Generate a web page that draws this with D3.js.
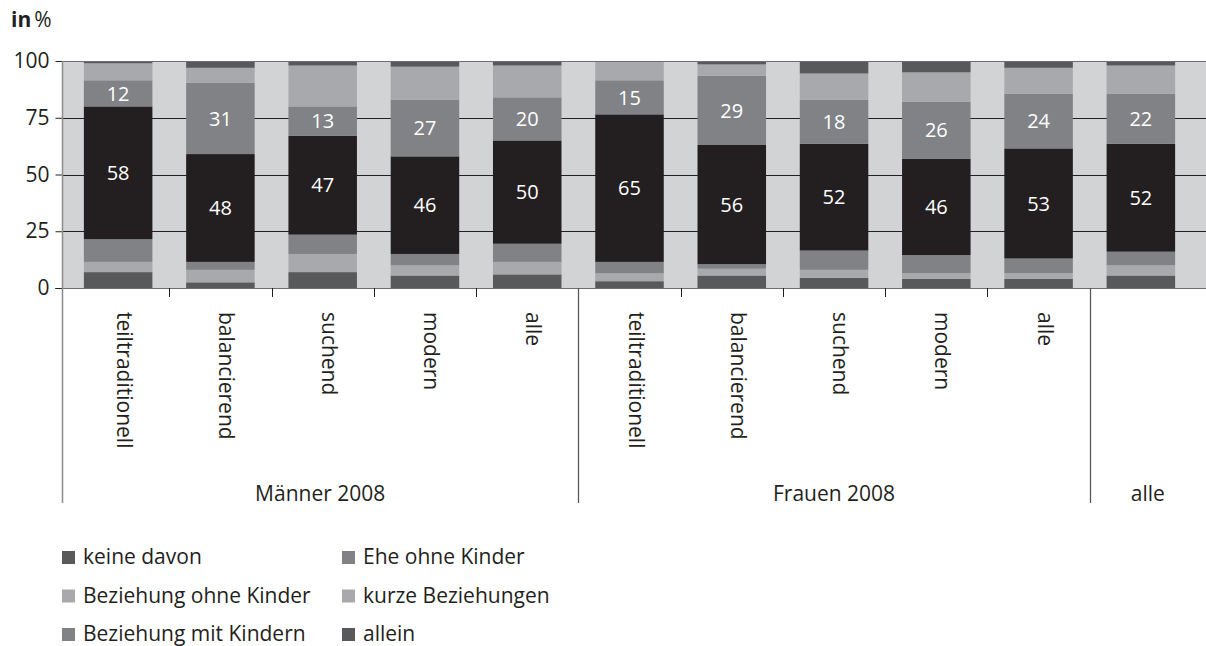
<!DOCTYPE html>
<meta charset="utf-8">
<script src="https://d3js.org/d3.v7.min.js"></script>
<style>
  body { margin: 0; background: #fff; }
  text { font-family: "Open Sans", sans-serif; fill: #231f20; }
</style>
<div id="chart"></div>
<script>

// x categories and the group each one belongs to
var categories = ["teiltraditionell", "balancierend", "suchend", "modern", "alle",
                  "teiltraditionell", "balancierend", "suchend", "modern", "alle", ""];
var groups = ["Männer 2008", "Männer 2008", "Männer 2008", "Männer 2008", "Männer 2008",
              "Frauen 2008", "Frauen 2008", "Frauen 2008", "Frauen 2008", "Frauen 2008", "alle"];

// shares of each segment (bottom to top)
var allein              = [7, 2.5, 7, 5.5, 6, 3, 5.5, 4.5, 4, 4, 5.5];
var kurzeBeziehungen    = [4.5, 5.5, 8, 4.5, 5.5, 3.5, 3, 3.5, 2.5, 2.5, 4.5];
var beziehungMitKindern = [10, 3.5, 8.5, 5, 8, 5, 2, 8.5, 8, 6.5, 6];
var eheMitKindern       = [58.5, 47.5, 43.5, 43, 45.5, 65, 52.5, 47, 42.5, 48.5, 47.5];
var eheOhneKinder       = [11.5, 31.5, 13, 25, 19, 15, 30.5, 19.5, 25, 24, 22];
var beziehungOhneKinder = [7.5, 6.5, 18, 14.5, 14, 8.5, 5, 11.5, 13, 11.5, 12.5];
var keineDavon          = [1, 3, 2, 2.5, 2, 0, 1.5, 5.5, 5, 3, 2];

// numbers printed in the bars
var labelEheMitKindern = [58, 48, 47, 46, 50, 65, 56, 52, 46, 53, 52];
var labelEheOhneKinder = [12, 31, 13, 27, 20, 15, 29, 18, 26, 24, 22];

var yTicks = [0, 25, 50, 75, 100];

var dark = "#58595b", mid = "#808285", light = "#a7a9ac", black = "#231f20";

var series = [
  {key: "allein", values: allein, color: dark},
  {key: "kurze Beziehungen", values: kurzeBeziehungen, color: light},
  {key: "Beziehung mit Kindern", values: beziehungMitKindern, color: mid},
  {key: "Ehe mit Kindern", values: eheMitKindern, color: black},
  {key: "Ehe ohne Kinder", values: eheOhneKinder, color: mid},
  {key: "Beziehung ohne Kinder", values: beziehungOhneKinder, color: light},
  {key: "keine davon", values: keineDavon, color: dark}
];

// legend reads row by row, two columns
var legendItems = ["keine davon", "Ehe ohne Kinder", "Beziehung ohne Kinder",
                   "kurze Beziehungen", "Beziehung mit Kindern", "allein"];

var W = 1206, H = 646;
var plotLeft = 62, plotRight = 1206, plotTop = 61, plotBottom = 288;

var svg = d3.select("#chart").append("svg")
    .attr("width", W)
    .attr("height", H);

var rows = categories.map(function(c, i) {
  var r = {i: i};
  series.forEach(function(s) { r[s.key] = s.values[i]; });
  return r;
});

var stack = d3.stack()
    .keys(series.map(function(s) { return s.key; }))
    .offset(d3.stackOffsetExpand);
var stacked = stack(rows);

var x = d3.scaleBand()
    .domain(d3.range(categories.length))
    .range([67, 1192])
    .paddingInner(0.33)
    .paddingOuter(0.165);

var y = d3.scaleLinear()
    .domain([0, 100])
    .range([plotBottom, plotTop]);

var halfGap = x.step() * x.paddingInner() / 2;

// gray plot background
svg.append("rect")
    .attr("x", plotLeft + 1)
    .attr("y", y(100))
    .attr("width", plotRight - plotLeft - 1)
    .attr("height", y(0) - y(100))
    .style("fill", "#d1d3d4");

// grid lines
svg.selectAll(".grid")
    .data([25, 50, 75])
    .enter().append("line")
    .attr("x1", plotLeft)
    .attr("x2", plotRight)
    .attr("y1", function(d) { return Math.round(y(d)) + 0.5; })
    .attr("y2", function(d) { return Math.round(y(d)) + 0.5; })
    .style("stroke", black)
    .style("stroke-width", 1);

// stacked bars
svg.append("g")
  .selectAll("g")
  .data(stacked)
  .enter().append("g")
    .style("fill", function(d, k) { return series[k].color; })
  .selectAll("rect")
  .data(function(d) { return d; })
  .enter().append("rect")
    .attr("x", function(d) { return x(d.data.i); })
    .attr("width", x.bandwidth())
    .attr("y", function(d) { return y(d[1] * 100); })
    .attr("height", function(d) { return y(d[0] * 100) - y(d[1] * 100); });

// value labels in the two middle segments
function addLabels(seriesIndex, labels) {
  svg.append("g")
    .selectAll("text")
    .data(stacked[seriesIndex])
    .enter().append("text")
      .attr("x", function(d) { return x(d.data.i) + x.bandwidth() / 2; })
      .attr("y", function(d) { return y((d[0] + d[1]) / 2 * 100); })
      .attr("dy", "0.36em")
      .attr("text-anchor", "middle")
      .style("font-size", "20px")
      .style("fill", "#fff")
      .text(function(d, i) { return labels[i]; });
}
addLabels(3, labelEheMitKindern);
addLabels(4, labelEheOhneKinder);

// top border and base line
svg.append("line")
    .attr("x1", plotLeft).attr("x2", plotRight)
    .attr("y1", Math.round(y(100)) + 0.5).attr("y2", Math.round(y(100)) + 0.5)
    .style("stroke", "#6d6e71");
svg.append("line")
    .attr("x1", plotLeft - 7).attr("x2", plotRight)
    .attr("y1", Math.round(y(0)) + 0.5).attr("y2", Math.round(y(0)) + 0.5)
    .style("stroke", "#6d6e71");

// y axis
var yAxis = svg.append("g")
    .attr("transform", "translate(" + (plotLeft + 0.5) + ",0)")
    .call(d3.axisLeft(y).tickValues(yTicks).tickSize(7).tickPadding(6));
yAxis.select(".domain").remove();
yAxis.selectAll(".tick line").style("stroke", black);
yAxis.selectAll(".tick text")
    .style("font-family", "'Open Sans', sans-serif")
    .style("font-size", "21px")
    .style("fill", black);

// left axis line running down through the category area
svg.append("line")
    .attr("x1", plotLeft + 0.5).attr("x2", plotLeft + 0.5)
    .attr("y1", y(100)).attr("y2", 503)
    .style("stroke", "#8c8c8c")
    .style("stroke-width", 1.5);

// category ticks and group dividers
var boundaries = d3.range(1, categories.length).map(function(i) {
  return {i: i, x: Math.round(x(i) - halfGap) + 0.5, divider: groups[i] !== groups[i - 1]};
});
svg.selectAll(".sep")
    .data(boundaries)
    .enter().append("line")
    .attr("x1", function(d) { return d.x; })
    .attr("x2", function(d) { return d.x; })
    .attr("y1", y(0))
    .attr("y2", function(d) { return d.divider ? 503 : y(0) + 9; })
    .style("stroke", function(d) { return d.divider ? "#5a5a5a" : black; })
    .style("stroke-width", function(d) { return d.divider ? 1.3 : 1; });

// rotated category labels
svg.append("g")
  .selectAll("text")
  .data(categories)
  .enter().append("text")
    .attr("transform", function(d, i) {
      return "translate(" + (x(i) + x.bandwidth() / 2 - 1) + ",312) rotate(90)";
    })
    .attr("text-anchor", "start")
    .style("font-size", "21px")
    .text(function(d) { return d; });

// group labels
var groupNames = Array.from(new Set(groups));
groupNames.forEach(function(g) {
  var idx = groups.map(function(v, i) { return v === g ? i : -1; })
                  .filter(function(i) { return i >= 0; });
  var first = idx[0], last = idx[idx.length - 1];
  var x0 = first === 0 ? plotLeft : x(first) - halfGap;
  var x1 = last === categories.length - 1 ? plotRight : x(last) + x.bandwidth() + halfGap;
  svg.append("text")
      .attr("x", (x0 + x1) / 2)
      .attr("y", 501)
      .attr("text-anchor", "middle")
      .style("font-size", "21px")
      .text(g);
});

// unit label
var unit = svg.append("text")
    .attr("x", 11)
    .attr("y", 27)
    .style("font-size", "21px");
unit.append("tspan").style("font-weight", "bold").text("in");
unit.append("tspan").attr("dx", 3).text("%");

// legend
var colorOf = {};
series.forEach(function(s) { colorOf[s.key] = s.color; });

var legend = svg.selectAll(".legend")
    .data(legendItems)
    .enter().append("g")
    .attr("class", "legend")
    .attr("transform", function(d, i) {
      return "translate(" + (62 + (i % 2) * 280) + "," + (564 + Math.floor(i / 2) * 38.5) + ")";
    });

legend.append("rect")
    .attr("x", 0)
    .attr("y", -13)
    .attr("width", 13)
    .attr("height", 13)
    .style("fill", function(d) { return colorOf[d]; });

legend.append("text")
    .attr("x", 21)
    .attr("y", 0)
    .style("font-size", "21px")
    .text(function(d) { return d; });

</script>
